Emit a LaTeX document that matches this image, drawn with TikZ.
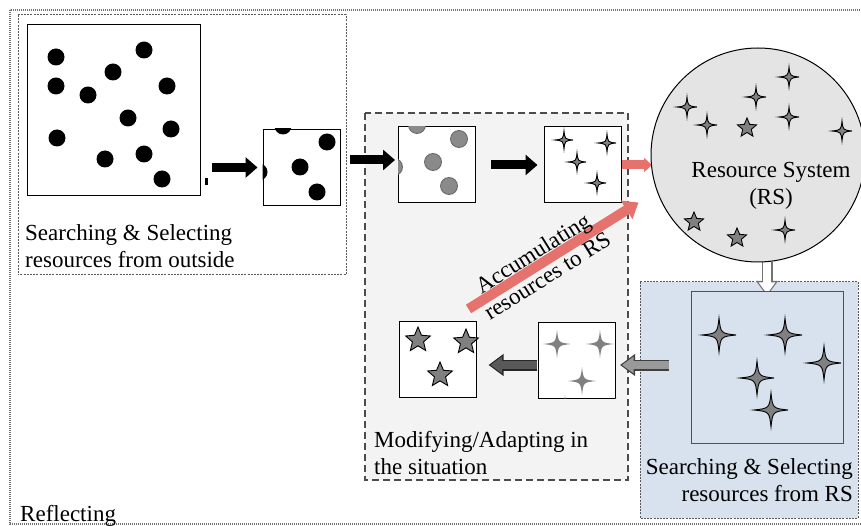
\documentclass[tikz,border=0pt]{standalone}
\usepackage{fontspec}
\setmainfont{Liberation Serif}
\usetikzlibrary{arrows.meta}
\definecolor{redline}{HTML}{E6726E}
\definecolor{midgray}{HTML}{F3F3F3}
\definecolor{rsgray}{HTML}{E4E4E4}
\definecolor{paleblue}{HTML}{D8E2EE}
\definecolor{bluegray}{HTML}{4A5260}
\definecolor{dotgray}{HTML}{8A8A8A}

\begin{document}
\begin{tikzpicture}[x=1pt, y=-1pt,
  lbl/.style={font=\rmfamily\fontsize{23}{27}\selectfont, inner sep=0pt},
  sq/.style={draw, line width=1pt, fill=white, minimum width=77pt, minimum height=76pt, inner sep=0pt},
  blk/.style={line width=9pt, -{Triangle[length=12pt,width=20pt]}},
  redarr/.style={draw=redline, line width=9pt, -{Triangle[length=8pt,width=14pt]}},
  outl/.style 2 args={preaction={draw=#1, line width=11pt, shorten >=0pt, -{Triangle[length=15pt,width=21pt]}},
    draw=#2, line width=8pt, shorten >=2pt, -{Triangle[length=11.5pt,width=16pt]}},
  outerline/.style={draw=black!55, line width=1.8pt, dash pattern=on 1.2pt off 0.8pt},
  dotline/.style={draw=black!65, line width=1pt, dash pattern=on 2pt off 1.2pt},
  midline/.style={draw=black!70, line width=1.2pt, dash pattern=on 7pt off 4pt},
  sparkdark/.style={draw=black, fill=gray, line width=0.9pt},
  sparklight/.style={fill=black!50},
  stardark/.style={draw=black, fill=gray, line width=0.9pt},
  sparkle/.pic={\path[pic actions, scale=#1] (1,0) .. controls (0.1,0.1) .. (0,1) .. controls (-0.1,0.1) .. (-1,0)
    .. controls (-0.1,-0.1) .. (0,-1) .. controls (0.1,-0.1) .. cycle;},
  starpic/.pic={\path[pic actions, scale=#1] (-90:1) -- (-54:0.45) -- (-18:1) -- (18:0.45) -- (54:1) -- (90:0.45)
    -- (126:1) -- (162:0.45) -- (198:1) -- (234:0.45) -- cycle;}]
\useasboundingbox (0,0) rectangle (861,526);

\draw[outerline] (10,10) rectangle (868,524);
\draw[dotline] (18,15) rectangle (346,275);
\filldraw[midline, fill=midgray] (365,113) rectangle (628,480);
\filldraw[dotline, fill=paleblue] (640,282) rectangle (858,518);

\node (outside) [sq, minimum width=173pt, minimum height=171pt] at (113.5,110.5) {};
\node (pick) [sq] at (301.5,167.5) {};
\node (grayed) [sq] at (437,165) {};
\node (spark) [sq] at (582.5,165) {};
\node (adapt) [sq] at (577,360) {};
\node (modified) [sq] at (437.5,359.5) {};

\draw[redarr] (spark.east) -- (spark.east -| 652,0);
\draw[outl={black!55}{white}] (758,262 -| 767,0) -- (767,296);
\node (RS) [circle, draw, line width=1pt, fill=rsgray, minimum size=214pt, inner sep=0pt] at (758,155) {};
\node (fromRS) [sq, fill=paleblue, draw=bluegray, minimum width=152pt, minimum height=151pt] at (767,367.5) {};

\fill (56,57) circle (8.5pt) (144,50) circle (8.5pt) (113,72) circle (8.5pt) (56,86) circle (8.5pt)
  (88,95) circle (8.5pt) (167,86) circle (8.5pt) (128,118) circle (8.5pt) (171,129) circle (8.5pt)
  (57,138) circle (8.5pt) (105,159) circle (8.5pt) (144,154) circle (8.5pt) (162,179) circle (8.5pt);
\fill (205,178) rectangle (208,185);
\begin{scope}
  \clip (pick.north west) rectangle (pick.south east);
  \fill (283,126) circle (8.5pt) (327,142) circle (8.5pt) (300,167) circle (8.5pt)
    (259,172) circle (8.5pt) (317,192) circle (8.5pt);
\end{scope}
\begin{scope}
  \clip (grayed.north west) rectangle (grayed.south east);
  \filldraw[fill=dotgray, draw=black!60, line width=0.8pt] (417,125) circle (8.5pt) (459,139) circle (8.5pt)
    (433,162) circle (8.5pt) (449,186) circle (8.5pt) (394,167) circle (8.5pt);
\end{scope}
\begin{scope}
  \clip (adapt.north west) rectangle (adapt.south east);
  \path (557,344) pic[sparklight]{sparkle=14} (600,344) pic[sparklight]{sparkle=14}
    (582,381) pic[sparklight]{sparkle=14} (618,401) pic[sparklight]{sparkle=12}
    (565,409) pic[sparklight]{sparkle=14};
\end{scope}

\path (564,140) pic[sparkdark]{sparkle=9} (607,143) pic[sparkdark]{sparkle=9}
  (577,162) pic[sparkdark]{sparkle=9} (597,183) pic[sparkdark]{sparkle=9};
\path (687,107) pic[sparkdark]{sparkle=10} (707,125) pic[sparkdark]{sparkle=10} (756,97) pic[sparkdark]{sparkle=10}
  (789,77) pic[sparkdark]{sparkle=10} (789,117) pic[sparkdark]{sparkle=10} (842,131) pic[sparkdark]{sparkle=10}
  (785,230) pic[sparkdark]{sparkle=10};
\path (747,128) pic[stardark]{starpic=10} (694,222) pic[stardark]{starpic=10} (737,238) pic[stardark]{starpic=10};
\path (719,335) pic[sparkdark]{sparkle=17} (785,335) pic[sparkdark]{sparkle=17} (824,363) pic[sparkdark]{sparkle=17}
  (757,378) pic[sparkdark]{sparkle=17} (771,410) pic[sparkdark]{sparkle=17};
\path (418,340) pic[stardark]{starpic=13} (466,342) pic[stardark]{starpic=13} (440,375) pic[stardark]{starpic=13};

\draw[blk, shorten <=11pt, shorten >=5pt] (outside.east |- pick.west) -- (pick.west);
\draw[blk, shorten <=9pt, shorten >=3pt] ([yshift=7.5pt]pick.east) -- ([yshift=7.5pt]pick.east -| grayed.west);
\draw[blk, shorten <=15pt, shorten >=6pt] (grayed.east) -- (spark.west);
\draw[outl={black!75}{black!40}] ([shift={(-22,-2.5)}]fromRS.west) -- ([shift={(4,5)}]adapt.east);
\draw[outl={black!85}{black!65}] ([shift={(-1,5)}]adapt.west) -- ([shift={(12,5.5)}]modified.east);
\draw[draw=redline, line width=10pt, -{Triangle[length=14pt,width=21pt]}] ([shift={(-8,-12)}]modified.north east)
  -- ([shift={(17,-1)}]spark.south east)
  node[lbl, pos=0.42, sloped, align=center] {Accumulating\\resources to RS};

\node (outsidetext) [lbl, anchor=west, align=left] at (25,246) {Searching \& Selecting\\resources from outside};
\node (modtext) [lbl, anchor=west, align=left] at (374,453) {Modifying/Adapting in\\the situation};
\node (rstext) [lbl, anchor=east, align=right] at (853,480) {Searching \& Selecting\\resources from RS};
\node (rsname) [lbl, align=center] at (771,186) {Resource System\\(RS)};
\node (reflect) [lbl, anchor=base west] at (20,521) {Reflecting};
\end{tikzpicture}
\end{document}
